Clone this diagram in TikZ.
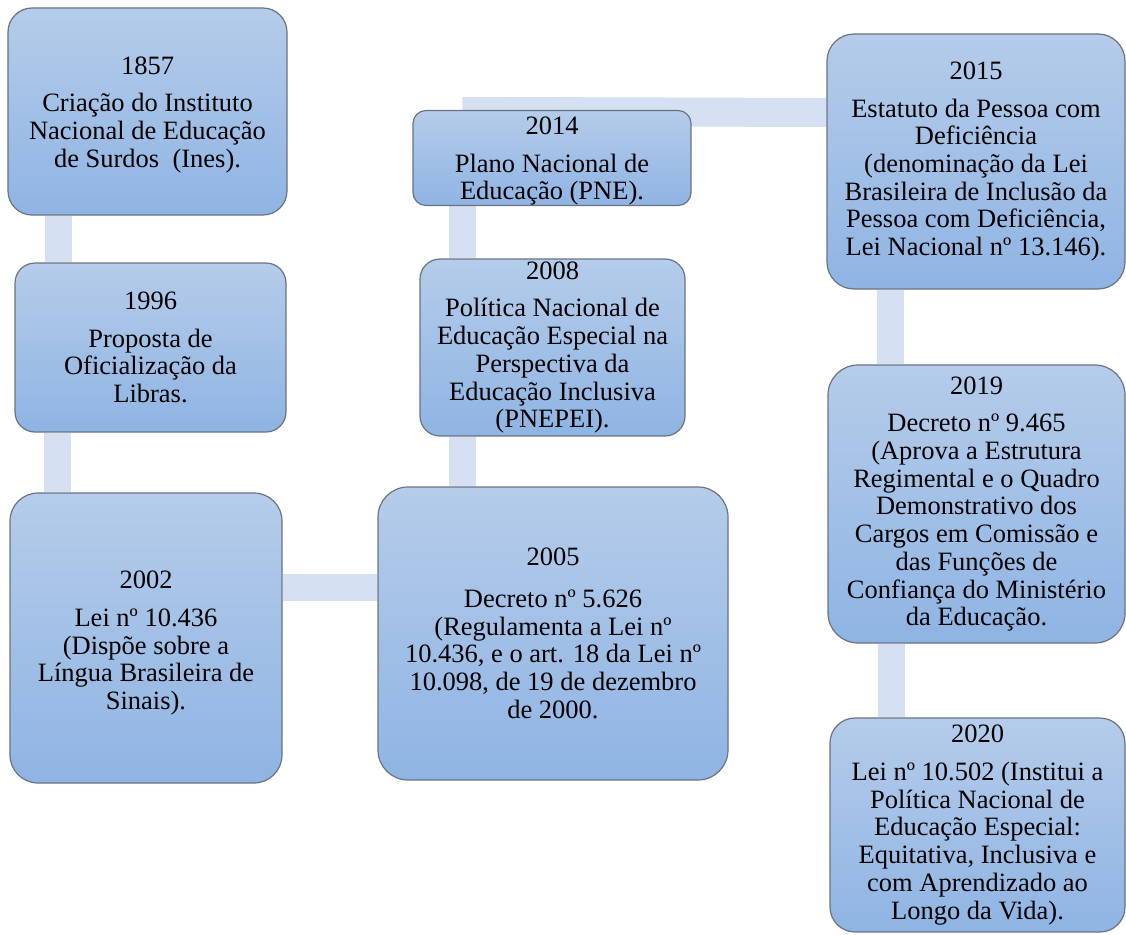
\documentclass[tikz,border=0pt]{standalone}
\usepackage{fontspec}
\setmainfont{Liberation Serif}
\usetikzlibrary{backgrounds}
\definecolor{azulclaro}{RGB}{181,204,234}
\definecolor{azulescuro}{RGB}{143,180,227}
\definecolor{borda}{RGB}{105,115,130}
\definecolor{corfaixa}{RGB}{213,225,242}

\begin{document}
\begin{tikzpicture}[x=1pt, y=-1pt,
        marco/.style={draw=borda, line width=1.2pt, rounded corners=#1, top color=azulclaro,
            bottom color=azulescuro, align=center, inner sep=0pt, font=\fontsize{26.5}{27.7}\selectfont},
        marco/.default=24pt,
        ligacao/.style={corfaixa, line width=27pt}]
        \useasboundingbox (0,0) rectangle (1126,934);
        \node[marco, minimum width=279pt, minimum height=207pt] (a1857) at (147.5,111.5)
            {\rule{0pt}{24pt}1857\\[10pt]Criação do Instituto\\Nacional de Educação\\de Surdos~ (Ines).};
        \node[marco=20pt, minimum width=271pt, minimum height=169pt] (a1996) at (150.5,347.5)
            {1996\\[10pt]Proposta de\\Oficialização da\\Libras.};
        \node[marco=28pt, minimum width=272pt, minimum height=290pt] (a2002) at (146,638)
            {\rule{0pt}{28pt}2002\\[10pt]Lei nº 10.436\\(Dispõe sobre a\\Língua Brasileira de\\Sinais).};
        \node[marco=30pt, minimum width=350pt, minimum height=293pt] (a2005) at (553,633.5)
            {2005\\[14pt]Decreto nº 5.626\\(Regulamenta a Lei nº\\10.436, e o art. 18 da Lei nº\\10.098, de 19 de dezembro\\de 2000.};
        \node[marco=20pt, minimum width=265pt, minimum height=177pt] (a2008) at (552.5,347.5)
            {2008\\[10pt]Política Nacional de\\Educação Especial na\\Perspectiva da\\Educação Inclusiva\\(PNEPEI).};
        \node[marco=13pt, minimum width=278pt, minimum height=94pt] (a2014) at (552,158)
            {\rule{0pt}{24pt}2014\\[10pt]Plano Nacional de\\Educação (PNE).};
        \node[marco=27pt, minimum width=298pt, minimum height=255pt] (a2015) at (976,161.5)
            {2015\\[10pt]Estatuto da Pessoa com\\Deficiência\\(denominação da Lei\\Brasileira de Inclusão da\\Pessoa com Deficiência,\\Lei Nacional nº 13.146).};
        \node[marco=30pt, minimum width=297pt, minimum height=278pt] (a2019) at (976.5,504)
            {2019\\[10pt]Decreto nº 9.465\\(Aprova a Estrutura\\Regimental e o Quadro\\Demonstrativo dos\\Cargos em Comissão e\\das Funções de\\Confiança do Ministério\\da Educação.};
        \node[marco=25pt, minimum width=295pt, minimum height=214pt] (a2020) at (977.5,825)
            {2020\\[10pt]Lei nº 10.502 (Institui a\\Política Nacional de\\Educação Especial:\\Equitativa, Inclusiva e\\com Aprendizado ao\\Longo da Vida).};
        \begin{scope}[on background layer]
            \draw[ligacao] ([xshift=51.5pt]a1857.south west) -- ([xshift=44.5pt]a1996.north west);
            \draw[ligacao] ([xshift=43.5pt]a1996.south west) -- ([xshift=48.5pt]a2002.north west);
            \draw[ligacao] ([yshift=50.5pt]a2002.east) -- ([yshift=46pt]a2005.west);
            \draw[ligacao] ([xshift=85pt]a2005.north west) -- ([xshift=43pt]a2008.south west);
            \draw[ligacao] ([xshift=43pt]a2008.north west) -- ([xshift=50pt]a2014.south west);
            \draw[ligacao, line width=29pt] ([xshift=50pt,yshift=-1.5pt]a2014.north west) -- ([yshift=49pt]a2015.west);
            \draw[ligacao] ([xshift=64.5pt]a2015.south west) -- ([xshift=63.5pt]a2019.north west);
            \draw[ligacao] ([xshift=64.5pt]a2019.south west) -- ([xshift=62.5pt]a2020.north west);
        \end{scope}
\end{tikzpicture}
\end{document}
